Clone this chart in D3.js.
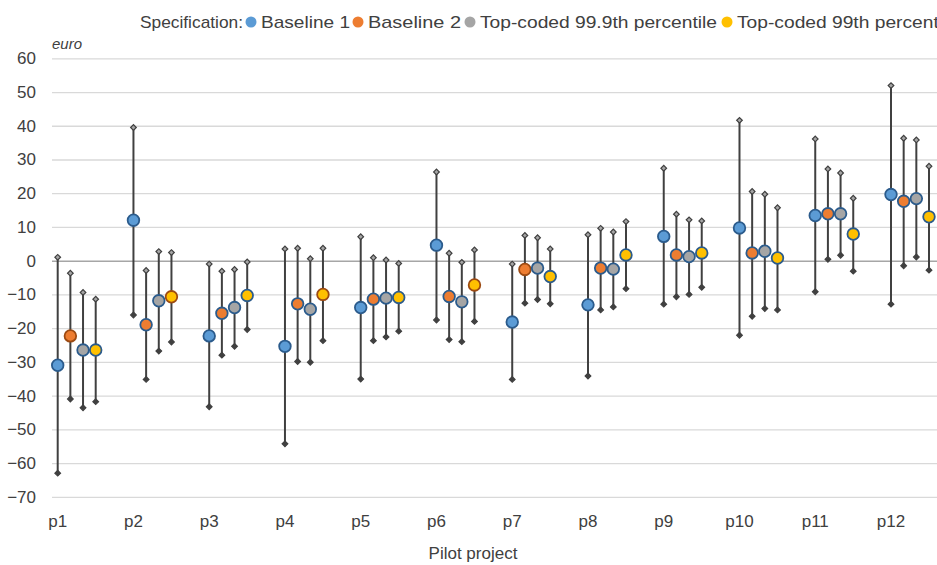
<!DOCTYPE html>
<html>
<head>
<meta charset="utf-8">
<script src="https://cdn.jsdelivr.net/npm/d3@7"></script>
<style>
  body { margin: 0; background: #fff; }
  text { font-family: "Liberation Sans", Arial, sans-serif; fill: #404040; }
</style>
</head>
<body>
<svg id="chart" width="937" height="565"></svg>
<script>
const categories = ["p1","p2","p3","p4","p5","p6","p7","p8","p9","p10","p11","p12"]
const seriesNames = ["Baseline 1","Baseline 2","Top-coded 99.9th percentile","Top-coded 99th percentile"]
const seriesColors = ["#5b9bd5","#ed7d31","#a5a5a5","#ffc000"]
const yTicks = [-70,-60,-50,-40,-30,-20,-10,0,10,20,30,40,50,60]

// point estimates per series, one value per pilot project
const baseline1 = [-31, 12, -22.3, -25.4, -13.9, 4.6, -18.2, -13.1, 7.2, 9.7, 13.4, 19.6]
const baseline2 = [-22.3, -19, -15.6, -12.8, -11.4, -10.6, -2.6, -2.2, 1.7, 2.3, 13.9, 17.6]
const topCoded999 = [-26.5, -11.9, -13.9, -14.4, -11.1, -12.2, -2.2, -2.5, 1.2, 2.8, 13.9, 18.4]
const topCoded99 = [-26.5, -10.7, -10.3, -10, -10.9, -7.2, -4.7, 1.7, 2.3, 0.8, 7.9, 13]

// upper and lower ends of the intervals
const high1 = [1, 39.5, -1, 3.5, 7.1, 26.3, -1, 7.7, 27.4, 41.6, 36.1, 51.9]
const low1 = [-63, -16.1, -43.3, -54.3, -35.1, -17.6, -35.2, -34.2, -12.9, -22.1, -9.2, -12.9]
const high2 = [-3.7, -2.9, -3.1, 3.7, 0.9, 2.2, 7.5, 9.6, 13.8, 20.5, 27.2, 36.3]
const low2 = [-41, -35.2, -28, -29.9, -23.7, -23.4, -12.6, -14.6, -10.7, -16.5, 0.4, -1.5]
const high999 = [-9.4, 2.7, -2.6, 0.6, 0.2, -0.5, 6.8, 8.5, 12.1, 19.7, 26, 35.8]
const low999 = [-43.6, -26.8, -25.4, -30.1, -22.6, -24, -11.5, -13.7, -10, -14.2, 1.6, 1.1]
const high99 = [-11.4, 2.4, -0.4, 3.7, -0.8, 3.2, 3.5, 11.6, 11.8, 15.7, 18.5, 28]
const low99 = [-41.8, -24.1, -20.4, -23.7, -20.9, -18, -12.8, -8.3, -7.9, -14.6, -3.1, -2.8]

const points = [baseline1, baseline2, topCoded999, topCoded99]
const highs = [high1, high2, high999, high99]
const lows = [low1, low2, low999, low99]

// markers drawn with a brown outline instead of the usual dark blue one
const brownOutlined = ["p1|1", "p2|3", "p4|3", "p6|3", "p7|1"]

const svg = d3.select("#chart")

const x = d3.scaleLinear().domain([0, categories.length - 1]).range([57.7, 891])
const xOff = d3.scalePoint().domain(seriesNames).range([0, 38])
const y = d3.scaleLinear().domain([-70, 60]).range([496.8, 58.3])

// gridlines + y labels
const yAxis = svg.append("g")
  .attr("transform", "translate(52,0)")
  .call(d3.axisLeft(y).tickValues(yTicks).tickSize(-885).tickPadding(16).tickFormat(d3.format("d")))
yAxis.select(".domain").remove()
yAxis.selectAll(".tick line")
  .attr("stroke", d => d == 0 ? "#a6a6a6" : "#d9d9d9")
  .attr("stroke-width", d => d == 0 ? 1.5 : 1.3)
yAxis.selectAll(".tick text")
  .style("font-size", "17px")
  .style("fill", "#404040")
  .attr("font-family", null)

// category labels
svg.append("g").selectAll("text")
  .data(categories)
  .join("text")
  .attr("x", (d, i) => x(i))
  .attr("y", 527)
  .attr("text-anchor", "middle")
  .style("font-size", "17px")
  .text(d => d)

svg.append("text")
  .attr("x", 473)
  .attr("y", 559)
  .attr("text-anchor", "middle")
  .style("font-size", "17px")
  .text("Pilot project")

svg.append("text")
  .attr("x", 52)
  .attr("y", 49)
  .style("font-size", "15px")
  .style("font-style", "italic")
  .text("euro")

// flatten into rows
const rows = []
seriesNames.forEach((s, si) => {
  categories.forEach((c, ci) => {
    rows.push({ cat: c, ci: ci, series: s, si: si, v: points[si][ci], hi: highs[si][ci], lo: lows[si][ci] })
  })
})
const px = d => x(d.ci) + xOff(d.series)

const diamond = d3.symbol().type(d3.symbolSquare).size(16)

const marks = svg.append("g")
marks.selectAll("line.whisker")
  .data(rows)
  .join("line")
  .attr("class", "whisker")
  .attr("x1", px).attr("x2", px)
  .attr("y1", d => y(d.hi)).attr("y2", d => y(d.lo))
  .attr("stroke", "#404040")
  .attr("stroke-width", 2)

marks.selectAll("path.top")
  .data(rows)
  .join("path")
  .attr("class", "top")
  .attr("d", diamond)
  .attr("transform", d => `translate(${px(d)},${y(d.hi)}) rotate(45)`)
  .attr("fill", "#a6a6a6")
  .attr("stroke", "#404040")
  .attr("stroke-width", 1.2)

marks.selectAll("path.bottom")
  .data(rows)
  .join("path")
  .attr("class", "bottom")
  .attr("d", diamond)
  .attr("transform", d => `translate(${px(d)},${y(d.lo)}) rotate(45)`)
  .attr("fill", "#404040")
  .attr("stroke", "#404040")
  .attr("stroke-width", 1.2)

marks.selectAll("circle")
  .data(rows)
  .join("circle")
  .attr("cx", px)
  .attr("cy", d => y(d.v))
  .attr("r", 5.8)
  .attr("fill", d => seriesColors[d.si])
  .attr("stroke", d => brownOutlined.includes(d.cat + "|" + d.si) ? "#9c4a12" : "#2b5b8c")
  .attr("stroke-width", 1.8)

// legend
const legendX = [251, 358, 470, 727]
const legendW = [89, 93, 237, 221]
svg.append("text")
  .attr("x", 140).attr("y", 28)
  .style("font-size", "17px")
  .attr("textLength", 103).attr("lengthAdjust", "spacingAndGlyphs")
  .text("Specification:")
const leg = svg.append("g").selectAll("g")
  .data(seriesNames)
  .join("g")
leg.append("circle")
  .attr("cx", (d, i) => legendX[i])
  .attr("cy", 22)
  .attr("r", 5.5)
  .attr("fill", (d, i) => seriesColors[i])
leg.append("text")
  .attr("x", (d, i) => legendX[i] + 10)
  .attr("y", 28)
  .style("font-size", "17px")
  .attr("textLength", (d, i) => legendW[i]).attr("lengthAdjust", "spacingAndGlyphs")
  .text(d => d)
</script>
</body>
</html>
